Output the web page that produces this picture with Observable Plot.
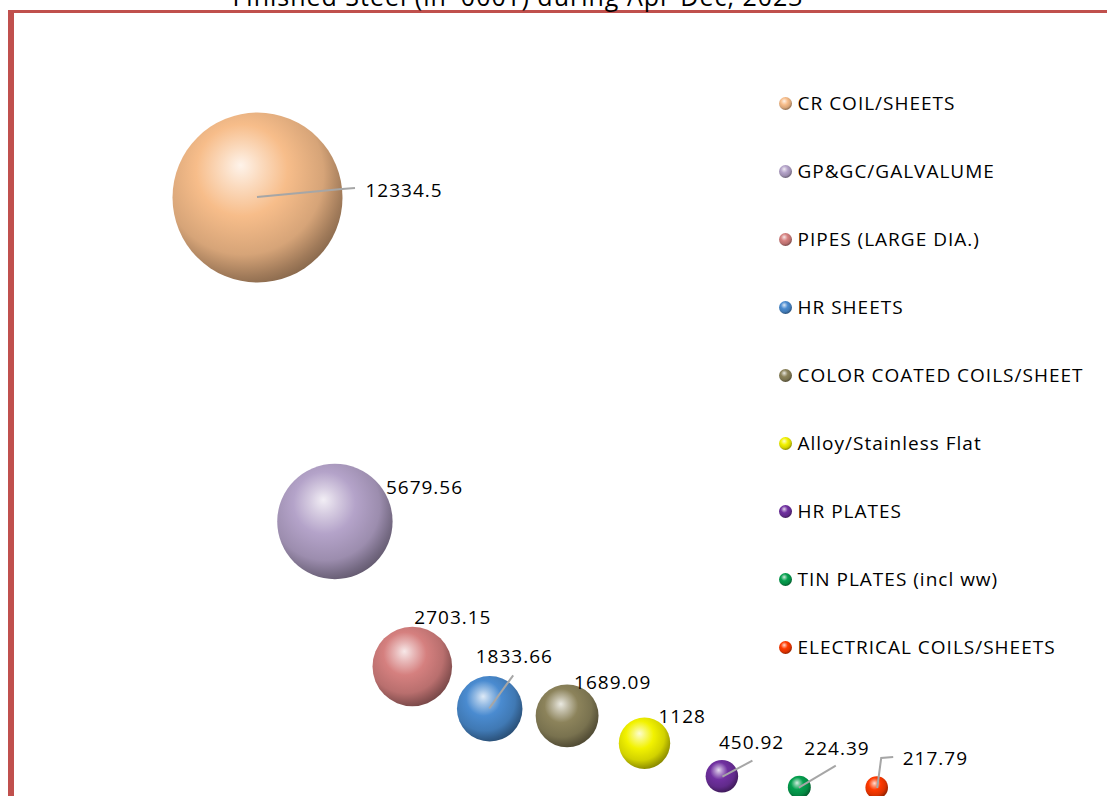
<!DOCTYPE html>
<html>
<head>
<meta charset="utf-8">
<script src="https://cdn.jsdelivr.net/npm/d3@7"></script>
<script src="https://cdn.jsdelivr.net/npm/@observablehq/plot@0.6"></script>
<style>
  html, body { margin: 0; padding: 0; background: #fff; overflow: hidden; }
  #wrap { position: relative; width: 1107px; height: 796px; overflow: hidden; }
  #frame { position: absolute; left: 8px; top: 10px; width: 1200px; height: 900px;
           border-left: 6px solid #c0504d; border-top: 3px solid #c0504d; box-sizing: border-box; }
  #main { position: absolute; left: 0; top: 0; }
  #legend { position: absolute; left: 776px; top: 85px; }
</style>
</head>
<body>
<div id="wrap">
  <div id="frame"></div>
  <div id="main"></div>
  <div id="legend"></div>
</div>
<script>
// ---- data ----
const title = "Finished Steel (in '000T) during Apr-Dec, 2023";
const categories = ["CR COIL/SHEETS", "GP&GC/GALVALUME", "PIPES (LARGE DIA.)", "HR SHEETS",
  "COLOR COATED COILS/SHEET", "Alloy/Stainless Flat", "HR PLATES", "TIN PLATES (incl ww)",
  "ELECTRICAL COILS/SHEETS"];
const xIndex = [1, 2, 3, 4, 5, 6, 7, 8, 9];
const values = [12334.5, 5679.56, 2703.15, 1833.66, 1689.09, 1128, 450.92, 224.39, 217.79];
const valueLabels = ["12334.5", "5679.56", "2703.15", "1833.66", "1689.09", "1128", "450.92", "224.39", "217.79"];

// ---- styling / layout ----
const colors = ["#f7bd8a", "#b4a3c9", "#d5807f", "#4a8bd0", "#8c835b", "#f2f200", "#7030a0", "#05a04f", "#ff3a00"];
// label offsets (px from bubble centre): left edge dx, middle dy
const labelOffsets = [[108, -7], [51, -34], [2, -49], [-14, -52], [7, -33], [14, -26], [-3, -33], [5, -38], [26, -29]];
// leader lines (px from bubble centre)
const leaderLines = [
  [[0, 0], [85, -8], [98, -9]], null, null,
  [[0, 0], [24, -33]], null, null,
  [[1, 1], [31, -15]],
  [[0, 1], [37, -21]],
  [[1, 1], [5, -29], [17, -30]]
];

const rows = categories.map((c, i) => ({i, category: c, pos: xIndex[i], value: values[i], label: valueLabels[i]}));

function gradientDefs() {
  const defs = d3.create("svg:defs");
  colors.forEach((c, i) => {
    const g = defs.append("radialGradient").attr("id", "sph" + i)
      .attr("cx", 0.42).attr("cy", 0.38).attr("r", 0.64).attr("fx", 0.4).attr("fy", 0.31);
    const mix = d3.interpolateRgb(c, "#ffffff");
    const stops = [
      [0, mix(0.82)], [0.18, mix(0.45)], [0.42, c],
      [0.74, d3.color(c).darker(0.4).formatHex()],
      [0.92, d3.color(c).darker(1.2).formatHex()],
      [1, d3.color(c).darker(1.6).formatHex()]
    ];
    stops.forEach(([o, col]) => g.append("stop").attr("offset", o).attr("stop-color", col));
  });
  return defs.node();
}

function leaders(index, scales) {
  const g = d3.create("svg:g").attr("fill", "none").attr("stroke", "#a6a6a6").attr("stroke-width", 2);
  rows.forEach((d, i) => {
    const L = leaderLines[i];
    if (!L) return;
    const cx = scales.x(d.pos), cy = scales.y(d.value);
    g.append("path").attr("d", d3.line()(L.map(([a, b]) => [cx + a, cy + b])));
  });
  return g.node();
}

const labelMarks = rows.map((d, i) => Plot.text([d], {
  x: "pos", y: "value", text: "label", textAnchor: "start", lineAnchor: "middle",
  dx: labelOffsets[i][0], dy: labelOffsets[i][1], fill: "#000"
}));

const main = Plot.plot({
  width: 1107, height: 796,
  marginTop: 0, marginRight: 0, marginBottom: 0, marginLeft: 0,
  style: {fontFamily: "'Open Sans', sans-serif", fontSize: "19px", letterSpacing: "1px", background: "transparent", overflow: "hidden"},
  x: {domain: [0, 10], range: [179.6, 953.6], axis: null},
  y: {domain: [0, 12334.5], range: [797.6, 197], axis: null},
  r: {type: "sqrt", domain: [0, 12334.5], range: [0, 85]},
  color: {type: "identity"},
  marks: [
    gradientDefs,
    Plot.dot(rows, {x: "pos", y: "value", r: "value", fill: d => `url(#sph${d.i})`, sort: null}),
    leaders,
    ...labelMarks,
    Plot.text([title], {text: d => d, frameAnchor: "top", lineAnchor: "bottom", dy: 5, dx: -36, fontSize: 25, fill: "#000", style: {letterSpacing: "1.3px"}})
  ]
});
document.getElementById("main").appendChild(main);

const legend = Plot.plot({
  width: 330, height: 600,
  marginTop: 0, marginRight: 0, marginBottom: 0, marginLeft: 0,
  style: {fontFamily: "'Open Sans', sans-serif", fontSize: "19px", letterSpacing: "1px", background: "transparent"},
  y: {type: "point", domain: categories, range: [18, 562], padding: 0, axis: null},
  color: {type: "identity"},
  marks: [
    Plot.dot(rows, {y: "category", frameAnchor: "left", dx: 9, r: 6.5, fill: d => `url(#sph${d.i})`}),
    Plot.text(rows, {y: "category", text: "category", frameAnchor: "left", dx: 21, textAnchor: "start", lineAnchor: "middle", fill: "#000"})
  ]
});
document.getElementById("legend").appendChild(legend);
</script>
</body>
</html>
